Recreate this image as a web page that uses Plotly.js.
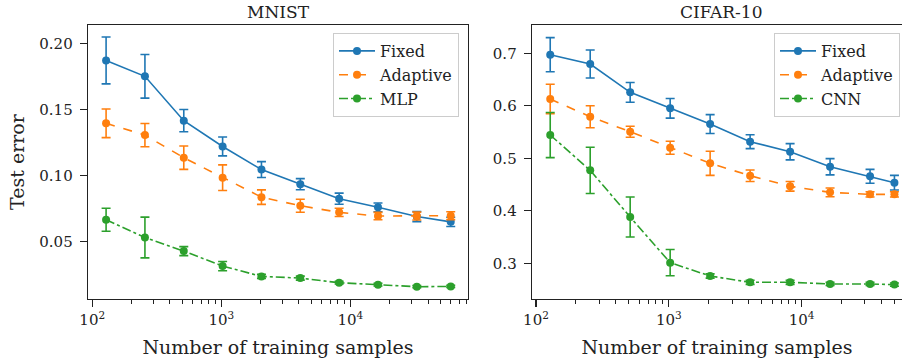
<!DOCTYPE html>
<html>
<head>
<meta charset="utf-8">
<script src="https://cdn.plot.ly/plotly-3.0.1.min.js"></script>
<style>html,body{margin:0;padding:0;background:#fff;}#chart{width:902px;height:360px;}</style>
</head>
<body>
<div id="chart"></div>
<script>
// ---- data ----
const xMnist = [128, 256, 512, 1024, 2048, 4096, 8192, 16384, 32768, 60000];
const xCifar = [128, 256, 512, 1024, 2048, 4096, 8192, 16384, 32768, 50000];

const mnistFixed = [0.187, 0.175, 0.1415, 0.122, 0.1045, 0.0935, 0.0825, 0.076, 0.069, 0.065];
const mnistFixedErr = [0.0177, 0.0165, 0.0084, 0.0071, 0.006, 0.0042, 0.0042, 0.0033, 0.0038, 0.0035];
const mnistAdaptive = [0.1395, 0.1306, 0.1135, 0.0984, 0.0837, 0.0772, 0.0722, 0.0694, 0.0694, 0.0697];
const mnistAdaptiveErr = [0.0108, 0.0088, 0.0088, 0.0097, 0.0055, 0.0049, 0.0031, 0.0028, 0.003, 0.003];
const mnistMLP = [0.0666, 0.0532, 0.0429, 0.0316, 0.0238, 0.0225, 0.019, 0.0175, 0.016, 0.0162];
const mnistMLPErr = [0.0087, 0.0154, 0.0034, 0.0035, 0.0015, 0.0015, 0.001, 0.001, 0.0008, 0.0008];

const cifarFixed = [0.6974, 0.6796, 0.6257, 0.5952, 0.5653, 0.5317, 0.5126, 0.484, 0.4657, 0.4536];
const cifarFixedErr = [0.0325, 0.0267, 0.0188, 0.0187, 0.018, 0.0133, 0.0155, 0.0155, 0.0133, 0.014];
const cifarAdaptive = [0.613, 0.5793, 0.5507, 0.5202, 0.4905, 0.4669, 0.4467, 0.4352, 0.4314, 0.4314];
const cifarAdaptiveErr = [0.028, 0.021, 0.0105, 0.0124, 0.023, 0.011, 0.0092, 0.0083, 0.005, 0.005];
const cifarCNN = [0.5444, 0.4771, 0.3882, 0.3012, 0.2758, 0.2638, 0.2638, 0.2606, 0.2606, 0.2594];
const cifarCNNErr = [0.043, 0.044, 0.038, 0.025, 0.004, 0.004, 0.004, 0.003, 0.003, 0.003];

const xTickVals = [100, 1000, 10000];
const xTickText = ['10<sup>2</sup>', '10<sup>3</sup>', '10<sup>4</sup>'];
const mnistYTicks = [0.05, 0.10, 0.15, 0.20];
const cifarYTicks = [0.3, 0.4, 0.5, 0.6, 0.7];

// ---- styling ----
const C = {fixed: '#1f77b4', adaptive: '#ff7f0e', third: '#2ca02c'};
const FONT = '"DejaVu Serif", serif';
const TXT = '#222222';

const minorVals = [];
[100, 1000, 10000].forEach(d => { for (let k = 2; k <= 9; k++) minorVals.push(k * d); });

function tr(x, y, err, name, color, dash, xa, ya, leg) {
  return {
    x: x, y: y, name: name, type: 'scatter', mode: 'lines+markers',
    xaxis: xa, yaxis: ya, legend: leg,
    line: {color: color, width: 1.6, dash: dash},
    marker: {color: color, size: 8},
    error_y: {type: 'data', array: err, visible: true, color: color, thickness: 1.6, width: 4.5}
  };
}

const data = [
  tr(xMnist, mnistFixed, mnistFixedErr, 'Fixed', C.fixed, 'solid', 'x', 'y', 'legend'),
  tr(xMnist, mnistAdaptive, mnistAdaptiveErr, 'Adaptive', C.adaptive, 'dash', 'x', 'y', 'legend'),
  tr(xMnist, mnistMLP, mnistMLPErr, 'MLP', C.third, 'dashdot', 'x', 'y', 'legend'),
  tr(xCifar, cifarFixed, cifarFixedErr, 'Fixed', C.fixed, 'solid', 'x2', 'y2', 'legend2'),
  tr(xCifar, cifarAdaptive, cifarAdaptiveErr, 'Adaptive', C.adaptive, 'dash', 'x2', 'y2', 'legend2'),
  tr(xCifar, cifarCNN, cifarCNNErr, 'CNN', C.third, 'dashdot', 'x2', 'y2', 'legend2')
];

const W = 902, H = 360;
const yDom = [1 - 299 / H, 1 - 25 / H];

function xaxis(domain, range, anchor, mirror) {
  return {
    type: 'log', domain: domain, range: range, anchor: anchor,
    showgrid: false, zeroline: false,
    showline: true, linecolor: TXT, linewidth: 1.3, mirror: mirror,
    ticks: 'outside', ticklen: 7, tickwidth: 1.2, tickcolor: TXT,
    tickvals: xTickVals, ticktext: xTickText,
    tickfont: {family: FONT, size: 15, color: TXT},
    minor: {tickvals: minorVals, ticks: 'outside', ticklen: 4, tickwidth: 1, tickcolor: TXT, showgrid: false},
    title: {text: 'Number of training samples', font: {family: FONT, size: 19, color: TXT}, standoff: 12}
  };
}
function yaxis(range, ticks, fmt, anchor, mirror, title) {
  const a = {
    domain: yDom, range: range, anchor: anchor,
    showgrid: false, zeroline: false,
    showline: true, linecolor: TXT, linewidth: 1.3, mirror: mirror,
    ticks: 'outside', ticklen: 7, tickwidth: 1.2, tickcolor: TXT,
    tickvals: ticks, tickformat: fmt, ticklabelstandoff: 4,
    tickfont: {family: FONT, size: 15, color: TXT}
  };
  if (title) a.title = {text: title, font: {family: FONT, size: 19, color: TXT}, standoff: 9};
  return a;
}

function legend(xr) {
  return {
    x: xr, xanchor: 'right', y: 1 - 33 / H, yanchor: 'top',
    bgcolor: 'rgba(255,255,255,0.85)', bordercolor: '#cccccc', borderwidth: 1,
    font: {family: FONT, size: 16, color: TXT}, itemwidth: 36
  };
}

const layout = {
  width: W, height: H,
  font: {family: FONT, size: 15, color: TXT},
  margin: {l: 0, r: 0, t: 0, b: 0},
  paper_bgcolor: '#ffffff', plot_bgcolor: '#ffffff',
  showlegend: true,
  xaxis: xaxis([88 / W, 468 / W], [1.967, 4.912], 'y', true),
  yaxis: yaxis([0.0067, 0.2138], mnistYTicks, '.2f', 'x', true, 'Test error'),
  xaxis2: xaxis([532 / W, 1], [1.970, 4.756], 'y2', true),
  yaxis2: yaxis([0.232, 0.754], cifarYTicks, '.1f', 'x2', false, null),
  legend: legend(459 / W),
  legend2: legend(900 / W),
  annotations: [
    {text: 'MNIST', xref: 'paper', yref: 'paper', x: 278 / W, y: 1 - 12 / H, xanchor: 'center', yanchor: 'middle', showarrow: false, font: {family: FONT, size: 17, color: TXT}},
    {text: 'CIFAR-10', xref: 'paper', yref: 'paper', x: 721 / W, y: 1 - 12 / H, xanchor: 'center', yanchor: 'middle', showarrow: false, font: {family: FONT, size: 17, color: TXT}}
  ]
};

Plotly.newPlot('chart', data, layout, {displayModeBar: false, staticPlot: true});
</script>
</body>
</html>
